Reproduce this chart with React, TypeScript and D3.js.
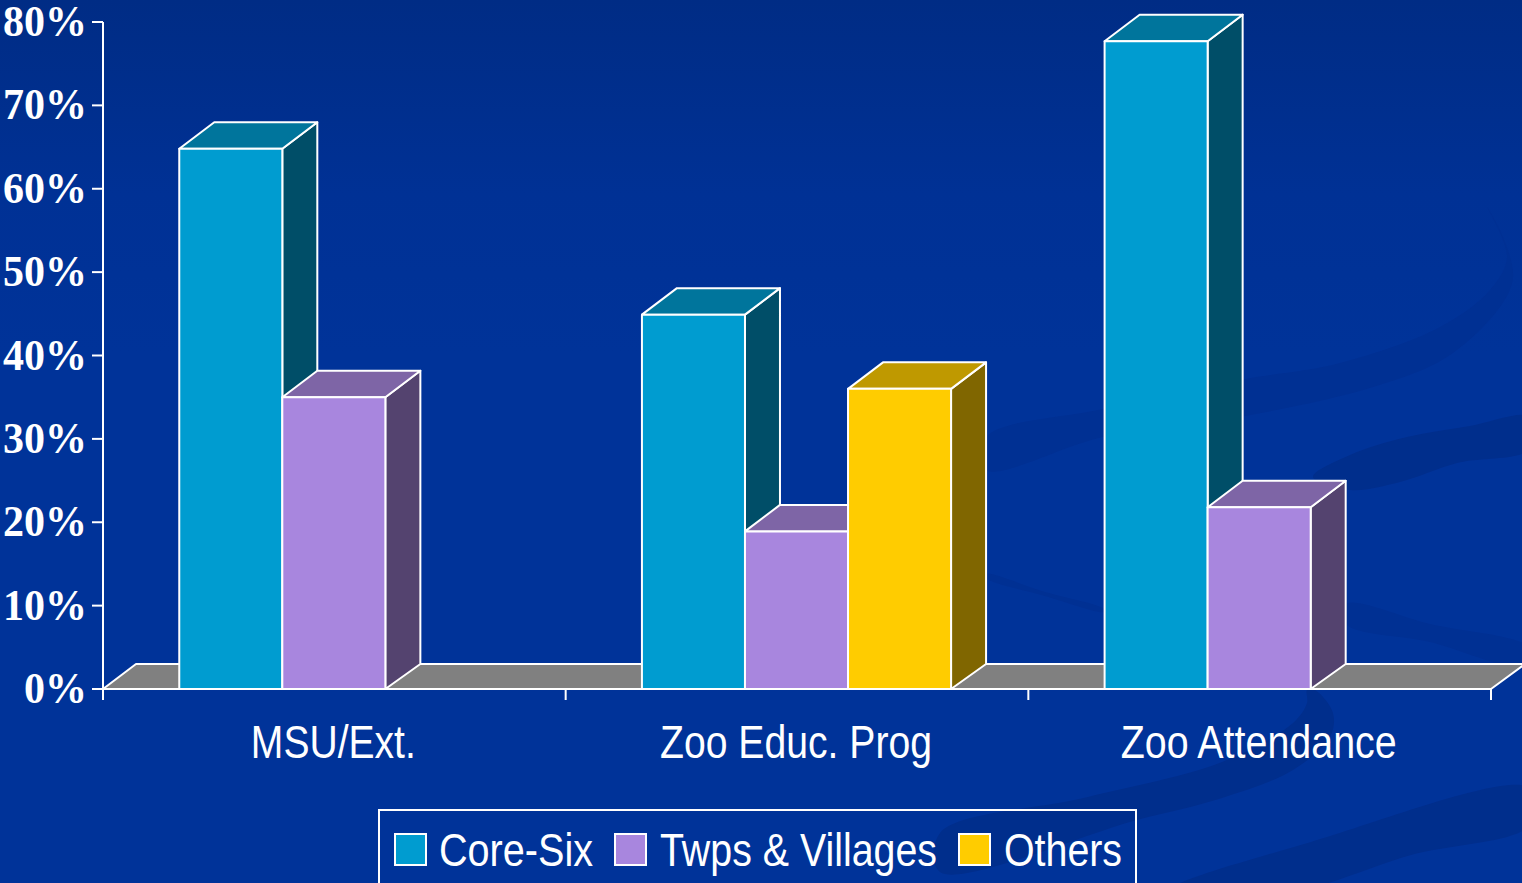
import * as d3 from 'd3'

const WIDTH = 1522
const HEIGHT = 883

const categories = ['MSU/Ext.', 'Zoo Educ. Prog', 'Zoo Attendance']
const seriesNames = ['Core-Six', 'Twps & Villages', 'Others']
const coreSix = [64.8, 44.9, 77.7]
const twpsVillages = [35, 18.9, 21.8]
const others = [null, 36, null]
const yTicks = [0, 10, 20, 30, 40, 50, 60, 70, 80]

const seriesValues = [coreSix, twpsVillages, others]

// front, top, side
const palette = [
  ['#009CD0', '#00759C', '#004E68'],
  ['#A886DE', '#7E65A6', '#54436F'],
  ['#FFCC00', '#BF9900', '#806600'],
]

const DEPTH_X = 35
const DEPTH_Y = 26.5

const x0 = d3.scaleBand().domain(categories).range([103, 1491])
const x1 = d3.scaleBand().domain(seriesNames).range([0, x0.bandwidth()]).paddingOuter(0.745)
const y = d3.scaleLinear().domain([0, 80]).range([689, 22])

// background swooshes, purely decorative outlines of the slide template
const SWOOSHES: { fill: string; pts: [number, number][] }[] = [
  {
    fill: '#003093',
    pts: [
      [986, 437], [1103, 409], [1240, 380], [1340, 363], [1440, 327], [1490, 290], [1507, 257], [1487, 207],
      [1503, 237], [1513, 277], [1500, 307], [1447, 357], [1373, 387], [1240, 417], [1103, 437], [986, 470],
    ],
  },
  {
    fill: '#002E8C',
    pts: [
      [1313, 477], [1350, 455], [1407, 437], [1470, 426], [1530, 417], [1530, 449], [1457, 463], [1400, 482], [1350, 490],
    ],
  },
  {
    fill: '#003093',
    pts: [[986, 574], [1045, 592], [1104, 609], [1104, 612], [1045, 596], [986, 578]],
  },
  {
    fill: '#003093',
    pts: [[1346, 604], [1430, 624], [1530, 648], [1530, 668], [1430, 642], [1346, 624]],
  },
  {
    fill: '#002E8C',
    pts: [
      [1307, 690], [1307, 703], [1293, 723], [1222, 762], [1088, 797], [940, 833],
      [940, 872], [1137, 820], [1222, 798], [1293, 770], [1330, 737], [1333, 713], [1315, 690],
    ],
  },
  {
    fill: '#002E8C',
    pts: [[1530, 788], [1311, 842], [1170, 890], [1290, 892], [1411, 855], [1530, 825]],
  },
]

const swooshPath = d3.line().curve(d3.curveCatmullRomClosed.alpha(0.5))

function Bar({ x, w, value, colors }: { x: number; w: number; value: number; colors: string[] }) {
  const top = y(value)
  const base = y(0)
  const line = d3.line()
  const topFace = line([[x, top], [x + DEPTH_X, top - DEPTH_Y], [x + w + DEPTH_X, top - DEPTH_Y], [x + w, top]])! + 'Z'
  const sideFace = line([[x + w, top], [x + w + DEPTH_X, top - DEPTH_Y], [x + w + DEPTH_X, base - 25], [x + w, base]])! + 'Z'
  return (
    <g stroke="#fff" strokeWidth={2} strokeLinejoin="round">
      <path d={sideFace} fill={colors[2]} />
      <path d={topFace} fill={colors[1]} />
      <rect x={x} y={top} width={w} height={base - top} fill={colors[0]} />
    </g>
  )
}

const legendItems = [
  { swatch: 395, text: 439, len: 154 },
  { swatch: 615, text: 660, len: 277 },
  { swatch: 959, text: 1004, len: 118 },
]

export default function App() {
  const floorPath = d3.line()([
    [103, y(0)],
    [136, y(0) - 25],
    [1525, y(0) - 25],
    [1491, y(0)],
  ])! + 'Z'

  return (
    <svg
      width={WIDTH}
      height={HEIGHT}
      viewBox={`0 0 ${WIDTH} ${HEIGHT}`}
      style={{ position: 'absolute', left: 0, top: 0, display: 'block' }}
    >
      <defs>
        <linearGradient id="bg" x1="0" y1="0" x2="0" y2="1">
          <stop offset="0" stopColor="#002C85" />
          <stop offset="0.22" stopColor="#003195" />
          <stop offset="0.4" stopColor="#003399" />
          <stop offset="1" stopColor="#003399" />
        </linearGradient>
      </defs>
      <rect width={WIDTH} height={HEIGHT} fill="url(#bg)" />
      {SWOOSHES.map((s, i) => (
        <path key={i} d={swooshPath(s.pts)!} fill={s.fill} />
      ))}

      {/* Floor */}
      <path d={floorPath} fill="#808080" stroke="#fff" strokeWidth={2} strokeLinejoin="round" />

      {/* Bars */}
      {categories.map((cat, c) => (
        <g key={cat}>
          {seriesNames.map((name, s) => {
            const v = seriesValues[s][c]
            if (v == null) return null
            return (
              <Bar
                key={name}
                x={x0(cat)! + x1(name)! - 0.5}
                w={x1.bandwidth()}
                value={v}
                colors={palette[s]}
              />
            )
          })}
        </g>
      ))}

      {/* Y axis */}
      <line x1={103} x2={103} y1={y(80)} y2={y(0) + 11} stroke="#fff" strokeWidth={2} />
      {yTicks.map((t) => (
        <g key={t}>
          <line x1={92} x2={103} y1={y(t)} y2={y(t)} stroke="#fff" strokeWidth={2} />
          <text
            x={87}
            y={y(t) + 14}
            textAnchor="end"
            fill="#fff"
            fontFamily="'Liberation Serif', serif"
            fontWeight="bold"
            fontSize={44}
            textLength={t === 0 ? 63 : 84}
            lengthAdjust="spacingAndGlyphs"
          >
            {t}%
          </text>
        </g>
      ))}

      {/* X axis */}
      <line x1={103} x2={1491} y1={y(0)} y2={y(0)} stroke="#fff" strokeWidth={2} />
      {[...categories.map((c) => x0(c)!), 1491].map((tx) => (
        <line key={tx} x1={tx} x2={tx} y1={y(0)} y2={y(0) + 11} stroke="#fff" strokeWidth={2} />
      ))}
      {categories.map((cat, i) => (
        <text
          key={cat}
          x={x0(cat)! + x0.bandwidth() / 2 - 1}
          y={758}
          textAnchor="middle"
          fill="#fff"
          fontFamily="'Liberation Sans', Arial, sans-serif"
          fontSize={47}
          textLength={[165, 272, 276][i]}
          lengthAdjust="spacingAndGlyphs"
        >
          {cat}
        </text>
      ))}

      {/* Legend */}
      <rect x={379} y={810} width={757} height={90} fill="none" stroke="#fff" strokeWidth={2} />
      {seriesNames.map((name, s) => (
        <g key={name}>
          <rect
            x={legendItems[s].swatch}
            y={834}
            width={31}
            height={31}
            fill={palette[s][0]}
            stroke="#fff"
            strokeWidth={2}
          />
          <text
            x={legendItems[s].text}
            y={866}
            fill="#fff"
            fontFamily="'Liberation Sans', Arial, sans-serif"
            fontSize={47}
            textLength={legendItems[s].len}
            lengthAdjust="spacingAndGlyphs"
          >
            {name}
          </text>
        </g>
      ))}
    </svg>
  )
}
